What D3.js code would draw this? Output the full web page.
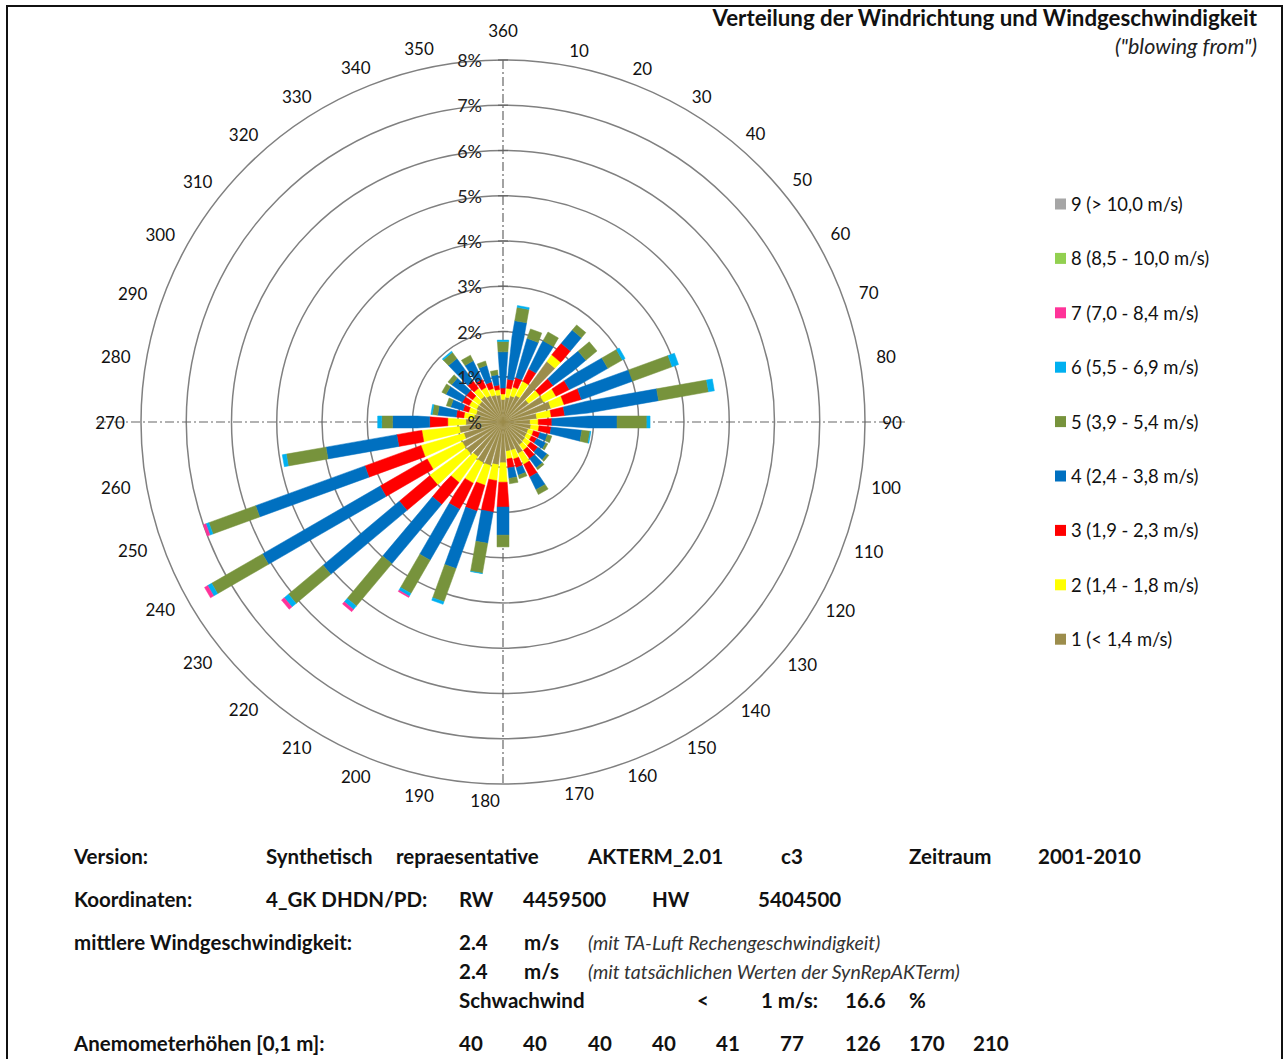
<!DOCTYPE html>
<html>
<head>
<meta charset="utf-8">
<script src="https://cdn.jsdelivr.net/npm/d3@7"></script>
<style>
  html, body { margin: 0; padding: 0; background: #fff; }
  svg { display: block; font-family: Lato, "Open Sans", sans-serif; }
</style>
</head>
<body>
<svg id="chart" width="1287" height="1059"></svg>
<script>
// Wind directions (degrees, "blowing from"), 10° sectors
const directions = [10, 20, 30, 40, 50, 60, 70, 80, 90, 100, 110, 120, 130, 140, 150, 160, 170, 180,
                    190, 200, 210, 220, 230, 240, 250, 260, 270, 280, 290, 300, 310, 320, 330, 340, 350, 360];

// Frequency (%) per speed class and direction sector
const class1 = [0.55, 0.60, 0.65, 1.65, 0.70, 1.00, 1.10, 0.75, 0.60, 0.62, 0.58, 0.58, 0.60, 0.62, 0.77, 0.65, 0.65, 0.90,
                0.95, 1.00, 1.00, 0.95, 1.00, 1.00, 0.90, 0.97, 0.82, 0.65, 0.62, 0.65, 0.65, 0.70, 0.65, 0.62, 0.60, 0.50];
const class2 = [0.20, 0.20, 0.35, 0.18, 0.30, 0.30, 0.30, 0.32, 0.18, 0.18, 0.12, 0.12, 0.15, 0.15, 0.27, 0.20, 0.17, 0.43,
                0.35, 0.45, 0.50, 0.70, 1.00, 0.86, 0.98, 0.83, 0.40, 0.22, 0.17, 0.18, 0.18, 0.22, 0.20, 0.15, 0.12, 0.12];
const class3 = [0.20, 0.22, 0.30, 0.33, 0.37, 0.33, 0.40, 0.30, 0.30, 0.27, 0.15, 0.13, 0.20, 0.23, 0.31, 0.20, 0.20, 0.55,
                0.70, 0.60, 0.65, 0.62, 0.88, 1.20, 1.32, 0.56, 0.40, 0.17, 0.13, 0.17, 0.17, 0.20, 0.20, 0.15, 0.10, 0.13];
const class4 = [1.30, 0.90, 0.70, 0.38, 0.91, 0.97, 1.20, 2.10, 1.44, 0.68, 0.17, 0.22, 0.25, 0.25, 0.31, 0.17, 0.23, 0.62,
                0.70, 1.35, 1.30, 1.71, 2.20, 3.00, 2.57, 1.59, 0.82, 0.41, 0.28, 0.40, 0.40, 0.61, 0.45, 0.38, 0.23, 0.80];
const class5 = [0.30, 0.22, 0.22, 0.15, 0.32, 0.37, 0.93, 1.12, 0.66, 0.18, 0.10, 0.05, 0.05, 0.05, 0.12, 0.08, 0.12, 0.26,
                0.67, 0.78, 0.85, 1.22, 1.00, 1.30, 1.10, 0.89, 0.24, 0.12, 0.10, 0.10, 0.10, 0.17, 0.14, 0.10, 0.10, 0.23];
const class6 = [0.04, 0.00, 0.00, 0.00, 0.00, 0.07, 0.15, 0.13, 0.07, 0.02, 0.00, 0.00, 0.00, 0.00, 0.00, 0.00, 0.00, 0.00,
                0.01, 0.06, 0.07, 0.10, 0.12, 0.10, 0.07, 0.09, 0.09, 0.03, 0.00, 0.00, 0.00, 0.03, 0.00, 0.00, 0.00, 0.03];
const class7 = [0, 0, 0, 0, 0, 0, 0, 0, 0, 0, 0, 0, 0, 0, 0, 0, 0, 0,
                0, 0, 0.03, 0.06, 0.08, 0.08, 0.06, 0, 0, 0, 0, 0, 0, 0, 0, 0, 0, 0];
const class8 = new Array(36).fill(0);
const class9 = new Array(36).fill(0);

const classLabels = ["1 (< 1,4 m/s)", "2 (1,4 - 1,8 m/s)", "3 (1,9 - 2,3 m/s)", "4 (2,4 - 3,8 m/s)",
                     "5 (3,9 - 5,4 m/s)", "6 (5,5 - 6,9 m/s)", "7 (7,0 - 8,4 m/s)", "8 (8,5 - 10,0 m/s)", "9 (> 10,0 m/s)"];
const classColors = ["#9C8D4C", "#FFFF00", "#FF0000", "#0070C0", "#77933C", "#00B0F0", "#FF3399", "#92D050", "#A6A6A6"];

const percentTicks = [0, 1, 2, 3, 4, 5, 6, 7, 8];
const tickLabels = ["%", "1%", "2%", "3%", "4%", "5%", "6%", "7%", "8%"];

// Assemble rows for d3.stack
const classArrays = [class1, class2, class3, class4, class5, class6, class7, class8, class9];
const keys = classLabels.map((_, i) => "c" + (i + 1));
const rows = directions.map((d, i) => {
  const row = { dir: d };
  keys.forEach((k, j) => row[k] = classArrays[j][i]);
  return row;
});
const series = d3.stack().keys(keys)(rows);

const svg = d3.select("#chart");
const cx = 503, cy = 422;
const rMax = 362;

// Frame
svg.append("rect").attr("x", 7).attr("y", 6).attr("width", 1275).attr("height", 1070)
  .attr("fill", "none").attr("stroke", "#111").attr("stroke-width", 2);

const r = d3.scaleLinear().domain([0, 8]).range([0, rMax]);
const ang = d3.scaleLinear().domain([0, 360]).range([0, 2 * Math.PI]);
const px = (deg, rad) => cx + rad * Math.sin(ang(deg));
const py = (deg, rad) => cy - rad * Math.cos(ang(deg));

const g = svg.append("g");

// Rings
g.selectAll("circle.ring").data(percentTicks.slice(1)).join("circle")
  .attr("class", "ring").attr("cx", cx).attr("cy", cy).attr("r", d => r(d))
  .attr("fill", "none").attr("stroke", "#808080").attr("stroke-width", 1.5);

// Axes (dash-dot)
g.append("line").attr("x1", cx).attr("x2", cx).attr("y1", cy - rMax).attr("y2", cy + rMax)
  .attr("stroke", "#666").attr("stroke-width", 1.2).attr("stroke-dasharray", "9,3,2,3");
g.append("line").attr("x1", cx - 406).attr("x2", cx + 402).attr("y1", cy).attr("y2", cy)
  .attr("stroke", "#666").attr("stroke-width", 1.2).attr("stroke-dasharray", "9,3,2,3");

// Small tick marks on the vertical axis
g.selectAll("line.tick").data(percentTicks.slice(1)).join("line")
  .attr("class", "tick").attr("x1", cx - 5).attr("x2", cx + 5)
  .attr("y1", d => cy - r(d)).attr("y2", d => cy - r(d))
  .attr("stroke", "#666").attr("stroke-width", 1.2);

// Direction labels, placed around the outer ring
const labelAngle = d => {
  if (d === 360) return 0;
  if (d < 180) return d + 1.6 * Math.cos(ang(d));
  return d + 2.7 * Math.cos(ang(d - 180));
};
const labelRadius = d => d === 360 ? 392 : 384 - 5 * Math.cos(2 * ang(d)) + (d > 180 ? 4 : 0);
g.selectAll("text.dir").data(directions).join("text")
  .attr("class", "dir")
  .attr("x", d => px(labelAngle(d), labelRadius(d)))
  .attr("y", d => py(labelAngle(d), labelRadius(d)))
  .attr("text-anchor", "middle").attr("dominant-baseline", "central")
  .attr("font-size", 17).attr("fill", "#111")
  .text(d => d);

// Stacked bars: radial strips that taper towards the centre
const spread = 0.14;  // angular width (rad) near the centre
const maxWidth = 12;  // px, width further out
const halfW = rad => Math.min(maxWidth / 2, rad * spread / 2);
const edgePoint = (deg, rad, side) => {
  const a = ang(deg);
  const h = halfW(rad) * side;
  return [cx + rad * Math.sin(a) + h * Math.cos(a), cy - rad * Math.cos(a) + h * Math.sin(a)];
};
const bend = maxWidth / spread;
const bars = g.append("g");
directions.forEach((d, i) => {
  series.forEach((s, j) => {
    const r0 = r(s[i][0]), r1 = r(s[i][1]);
    if (r1 - r0 <= 0) return;
    const radii = [r0];
    if (r0 < bend && r1 > bend) radii.push(bend);
    radii.push(r1);
    const pts = radii.map(q => edgePoint(d, q, 1))
      .concat(radii.slice().reverse().map(q => edgePoint(d, q, -1)));
    bars.append("path")
      .attr("d", d3.line()(pts) + "Z")
      .attr("fill", classColors[j])
      .attr("stroke", classColors[j]).attr("stroke-width", 0.5);
  });
});

// Percent labels along the north axis
g.selectAll("text.pct").data(percentTicks).join("text")
  .attr("class", "pct").attr("x", cx - 21).attr("y", d => cy - r(d))
  .attr("text-anchor", "end").attr("dominant-baseline", "central")
  .attr("font-size", 18).attr("fill", "#222")
  .text((d, i) => tickLabels[i]);

// Title
svg.append("text").attr("x", 1257).attr("y", 26).attr("text-anchor", "end")
  .attr("font-size", 22.3).attr("font-weight", "bold").attr("fill", "#111")
  .text("Verteilung der Windrichtung und Windgeschwindigkeit");
svg.append("text").attr("x", 1257).attr("y", 54).attr("text-anchor", "end")
  .attr("font-size", 21.5).attr("font-style", "italic").attr("fill", "#222")
  .text("(\"blowing from\")");

// Legend (top entry is the highest class)
const legendOrder = d3.range(8, -1, -1);
const lg = svg.append("g");
legendOrder.forEach((ci, k) => {
  const y = 204 + k * 54.4;
  lg.append("rect").attr("x", 1055).attr("y", y - 5.5).attr("width", 11).attr("height", 11)
    .attr("fill", classColors[ci]);
  lg.append("text").attr("x", 1071).attr("y", y).attr("dominant-baseline", "central")
    .attr("font-size", 18.4).attr("fill", "#111").text(classLabels[ci]);
});

// Info block below the chart
const info = [
  { y: 856, items: [[74, "Version:"], [266, "Synthetisch"], [396, "repraesentative"], [588, "AKTERM_2.01"], [781, "c3"], [909, "Zeitraum"], [1038, "2001-2010"]] },
  { y: 899, items: [[74, "Koordinaten:"], [266, "4_GK DHDN/PD:"], [459, "RW"], [523, "4459500"], [652, "HW"], [758, "5404500"]] },
  { y: 942, items: [[74, "mittlere Windgeschwindigkeit:"], [459, "2.4"], [524, "m/s"], [588, "(mit TA-Luft Rechengeschwindigkeit)", true]] },
  { y: 971, items: [[459, "2.4"], [524, "m/s"], [588, "(mit tatsächlichen Werten der SynRepAKTerm)", true]] },
  { y: 1000, items: [[459, "Schwachwind"], [697, "<"], [761, "1 m/s:"], [845, "16.6"], [909, "%"]] },
  { y: 1043, items: [[74, "Anemometerhöhen [0,1 m]:"], [459, "40"], [523, "40"], [588, "40"], [652, "40"], [716, "41"], [780, "77"], [845, "126"], [909, "170"], [973, "210"]] }
];
const ig = svg.append("g");
info.forEach(rowDef => {
  rowDef.items.forEach(([x, t, it]) => {
    ig.append("text").attr("x", x).attr("y", rowDef.y).attr("dominant-baseline", "central")
      .attr("font-size", it ? 19.5 : 20.5)
      .attr("font-weight", it ? "normal" : "bold")
      .attr("font-style", it ? "italic" : "normal")
      .attr("fill", it ? "#333" : "#111")
      .text(t);
  });
});
</script>
</body>
</html>
